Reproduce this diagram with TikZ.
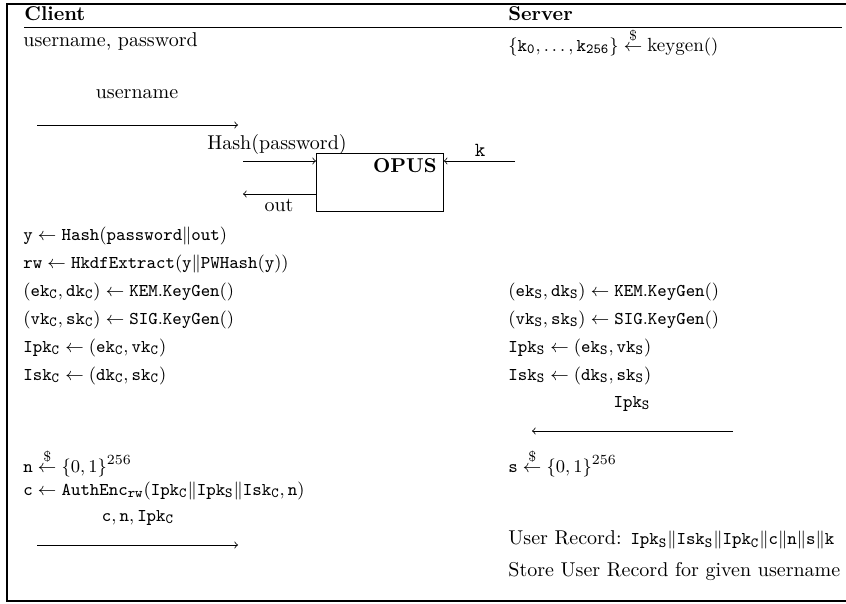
\documentclass[tikz,border=0pt]{standalone}
\usepackage{amssymb}
\usepackage{tikz}
\usepackage{amsmath}

\begin{document}
\begin{tikzpicture}[x=0.5pt, y=-0.5pt, every node/.style={inner sep=0pt}]
  \tikzset{
    cell/.style={anchor=west},
    mcell/.style={anchor=west, font=\fontsize{9.5}{11}\selectfont},
    head/.style={anchor=west, font=\bfseries},
    msg/.style={->},
  }
  \useasboundingbox (0,0) rectangle (846,604);

  % Frame
  \draw[line width=0.6pt] (846,4) -- (7,4) -- (7,601) -- (846,601);
  \draw (24,27) -- (842,27);
  \node[head] (client) at (24,14) {Client};
  \node[head] (server) at (508,14) {Server};

  % Setup
  \node[cell] (cred) at (23,42) {username, password};
  \node[mcell] (keys) at (508,42) {$\{\mathtt{k_0},\ldots,\mathtt{k_{256}}\}\stackrel{\$}{\leftarrow}\text{keygen}()$};

  % Arrow username
  \node (lbluser) at (137,94) {username};
  \coordinate (u0) at (37,125); \coordinate (u1) at (238,125);
  \draw[msg] (u0) -- (u1);

  % OPUS box
  \node[draw, anchor=north west, minimum width=63.5pt, minimum height=29pt] (opus) at (316,153) {};
  \node[anchor=east, font=\bfseries] (opuslbl) at (437,166) {OPUS};
  \coordinate (hin) at (243,161);
  \draw[msg] (hin) -- (hin -| opus.west);
  \node (lblhash) at (277,145) {Hash(password)};
  \coordinate (hout) at (243,194);
  \draw[msg] (hout -| opus.west) -- (hout);
  \node (lblout) at (279,205) {out};
  \coordinate (kin) at (515,161);
  \draw[msg] (kin) -- (kin -| opus.east);
  \node (lblk) at (480,150) {$\mathtt{k}$};

  % Client side
  \node[mcell] (c1) at (23,236) {$\mathtt{y}\leftarrow\mathtt{Hash}(\mathtt{password}\|\mathtt{out})$};
  \node[mcell] (c2) at (23,264) {$\mathtt{rw}\leftarrow\mathtt{HkdfExtract}(\mathtt{y}\|\mathtt{PWHash}(\mathtt{y}))$};
  \node[mcell] (c3) at (23,292) {$(\mathtt{ek_C},\mathtt{dk_C})\leftarrow\mathtt{KEM.KeyGen}()$};
  \node[mcell] (c4) at (23,320) {$(\mathtt{vk_C},\mathtt{sk_C})\leftarrow\mathtt{SIG.KeyGen}()$};
  \node[mcell] (c5) at (23,348) {$\mathtt{Ipk_C}\leftarrow(\mathtt{ek_C},\mathtt{vk_C})$};
  \node[mcell] (c6) at (23,376) {$\mathtt{Isk_C}\leftarrow(\mathtt{dk_C},\mathtt{sk_C})$};

  % Server side
  \node[mcell] (s1) at (508,292) {$(\mathtt{ek_S},\mathtt{dk_S})\leftarrow\mathtt{KEM.KeyGen}()$};
  \node[mcell] (s2) at (508,320) {$(\mathtt{vk_S},\mathtt{sk_S})\leftarrow\mathtt{SIG.KeyGen}()$};
  \node[mcell] (s3) at (508,348) {$\mathtt{Ipk_S}\leftarrow(\mathtt{ek_S},\mathtt{vk_S})$};
  \node[mcell] (s4) at (508,376) {$\mathtt{Isk_S}\leftarrow(\mathtt{dk_S},\mathtt{sk_S})$};

  % Arrow Ipk_S
  \node[mcell, anchor=center] (lblipk) at (632,404) {$\mathtt{Ipk_S}$};
  \coordinate (i0) at (733,431); \coordinate (i1) at (532,431);
  \draw[msg] (i0) -- (i1);

  \node[mcell] (c7) at (23,463) {$\mathtt{n}\stackrel{\$}{\leftarrow}\{0,1\}^{256}$};
  \node[mcell] (s5) at (508,463) {$\mathtt{s}\stackrel{\$}{\leftarrow}\{0,1\}^{256}$};
  \node[mcell] (c8) at (23,491) {$\mathtt{c}\leftarrow\mathtt{AuthEnc_{rw}}(\mathtt{Ipk_C}\|\mathtt{Ipk_S}\|\mathtt{Isk_C},\mathtt{n})$};

  % Arrow c, n, Ipk_C
  \node[mcell, anchor=center] (lblmsg) at (138,518) {$\mathtt{c},\mathtt{n},\mathtt{Ipk_C}$};
  \coordinate (m0) at (37,545); \coordinate (m1) at (238,545);
  \draw[msg] (m0) -- (m1);

  \node[cell] (s6) at (508,540) {User Record: {\fontsize{9.5}{11}\selectfont$\mathtt{Ipk_S}\|\mathtt{Isk_S}\|\mathtt{Ipk_C}\|\mathtt{c}\|\mathtt{n}\|\mathtt{s}\|\mathtt{k}$}};
  \node[cell] (s7) at (508,572) {Store User Record for given username};
\end{tikzpicture}
\end{document}
